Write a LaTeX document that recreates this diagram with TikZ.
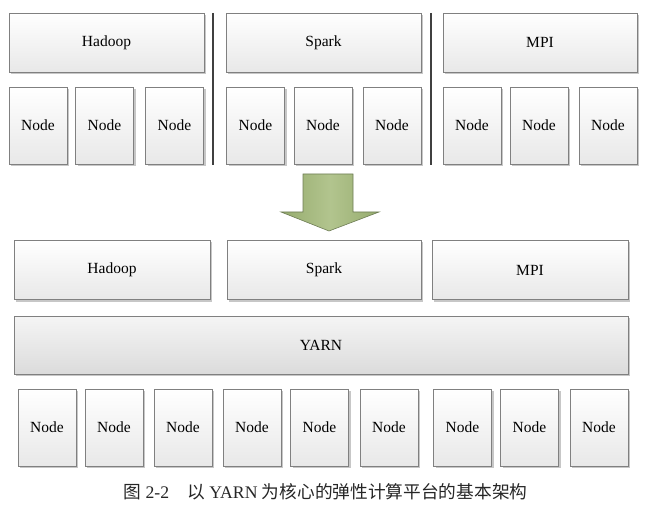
\documentclass[tikz,border=0pt]{standalone}
\usepackage{fontspec}
\setmainfont{Liberation Serif}
\newfontfamily\cjk{Noto Sans CJK SC}
\usetikzlibrary{shadows}
\definecolor{arrowside}{RGB}{150,172,110}
\definecolor{arrowmid}{RGB}{178,196,142}
\definecolor{arrowline}{RGB}{110,125,85}

\begin{document}
\begin{tikzpicture}
      [x=1pt,y=-1pt,
        box/.style={draw=black!50,line width=0.8pt,top color=white,bottom color=black!9,
          drop shadow={shadow xshift=2pt,shadow yshift=-2pt,fill=black!22,opacity=1},
          inner sep=0pt,font=\fontsize{15.5}{17}\selectfont},
        framebox/.style={box,minimum height=59pt},
        nodebox/.style={box,minimum width=58pt,minimum height=77pt},
        sepline/.style={draw=black!75,line width=1.5pt}]
  \useasboundingbox (0,0) rectangle (652,510);
  % before: every framework on its own nodes
  \node[framebox,minimum width=195pt] (hadoop) at (106.5,42.5) {Hadoop};
  \node[framebox,minimum width=195pt] (spark) at (323.5,42.5) {Spark};
  \node[framebox,minimum width=194pt] (mpi) at (540,42.5) {MPI};
  \foreach \x [count=\i] in {38,104.5,174.5,255.5,323,392,472,539,608}
    \node[nodebox] (n\i) at (\x,125.5) {Node};
  \coordinate (sa1) at (213,13);
  \coordinate (sa2) at (213,165);
  \coordinate (sb1) at (431,13);
  \coordinate (sb2) at (431,165);
  \draw[sepline] (sa1) -- (sa2);
  \draw[sepline] (sb1) -- (sb2);
  % arrow
  \shade[draw=arrowline,line width=0.6pt,left color=arrowside,right color=arrowside,middle color=arrowmid]
    (303,174) -- (353,174) -- (353,212) -- (379,212) -- (329,231)
    -- (281,212) -- (303,212) -- cycle;
  % after: YARN in between
  \node[framebox,minimum width=196pt] (hadoop2) at (112,270) {Hadoop};
  \node[framebox,minimum width=194pt] (spark2) at (324,270) {Spark};
  \node[framebox,minimum width=196pt] (mpi2) at (530,270) {MPI};
  \node[framebox,minimum width=614pt,minimum height=58pt,top color=black!4,bottom color=black!14] (yarn) at (321,345) {YARN};
  \foreach \x [count=\i] in {47,114,183,252,319.5,389,462.5,529.5,599}
    \node[nodebox] (b\i) at (\x,427.5) {Node};
  \node[font=\fontsize{17.7}{19}\selectfont,text=black!85] (caption) at (325.5,492)
    {{\cjk 图} 2-2\hspace{18pt}{\cjk 以} YARN {\cjk 为核心的弹性计算平台的基本架构}};
\end{tikzpicture}
\end{document}
